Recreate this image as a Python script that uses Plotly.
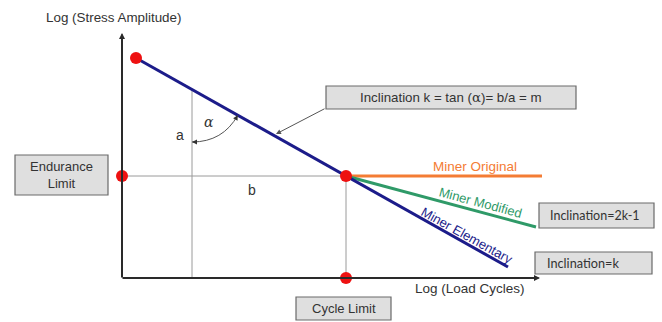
import plotly.graph_objects as go

# ---- data (log cycles on x, log stress on y; arbitrary diagram units) ----
cycle_limit = 224
endurance_limit = 102
elementary_x = [14, 224, 386]
elementary_y = [220, 102, 11]
original_x = [224, 420]
original_y = [102, 102]
modified_x = [224, 414]
modified_y = [102, 51]
points_x = [14, 0, 224, 224]
points_y = [220, 102, 102, 0]
a_line_x = 70
a_line_y = [0, 188.5]

FONT = "Liberation Sans, Arial, sans-serif"
BOXFONT = "Lato, Carlito, sans-serif"
NAVY = "#1c1c8a"
ORANGE = "#f47c34"
GREEN = "#2f9a68"
GRAY = "#9a9a9a"

fig = go.Figure()

# helper gray construction lines
fig.add_trace(go.Scatter(x=[a_line_x, a_line_x], y=a_line_y, mode="lines",
                         line=dict(color=GRAY, width=1), hoverinfo="skip"))
fig.add_trace(go.Scatter(x=[0, cycle_limit], y=[endurance_limit, endurance_limit], mode="lines",
                         line=dict(color=GRAY, width=1), hoverinfo="skip"))
fig.add_trace(go.Scatter(x=[cycle_limit, cycle_limit], y=[0, endurance_limit], mode="lines",
                         line=dict(color=GRAY, width=1), hoverinfo="skip"))

# curves
fig.add_trace(go.Scatter(x=original_x, y=original_y, mode="lines",
                         line=dict(color=ORANGE, width=3)))
fig.add_trace(go.Scatter(x=modified_x, y=modified_y, mode="lines",
                         line=dict(color=GREEN, width=3)))
fig.add_trace(go.Scatter(x=elementary_x, y=elementary_y, mode="lines",
                         line=dict(color=NAVY, width=3)))

# red points
fig.add_trace(go.Scatter(x=points_x, y=points_y, mode="markers",
                         marker=dict(color="#ee1111", size=12, line=dict(width=0))))

annotations = []
shapes = []

# axes with arrows
annotations.append(dict(x=0, y=245, ax=0, ay=-1, xref="x", yref="y", axref="x", ayref="y",
                        text="", showarrow=True, arrowhead=2, arrowsize=0.6, arrowwidth=2,
                        arrowcolor="#2a2a2a"))
annotations.append(dict(x=418, y=0, ax=-1, ay=0, xref="x", yref="y", axref="x", ayref="y",
                        text="", showarrow=True, arrowhead=2, arrowsize=0.6, arrowwidth=2,
                        arrowcolor="#2a2a2a"))

# angle arc
shapes.append(dict(type="path", xref="x", yref="y",
                   path="M 70,136 Q 100.8,136 115.8,162.8",
                   line=dict(color="#555555", width=1)))
annotations.append(dict(x=70, y=136, ax=5, ay=0, xref="x", yref="y", text="", showarrow=True,
                        arrowhead=2, arrowsize=1, arrowwidth=1, arrowcolor="#333333"))
annotations.append(dict(x=115.8, y=162.8, ax=-2.5, ay=4.4, xref="x", yref="y", text="",
                        showarrow=True, arrowhead=2, arrowsize=1, arrowwidth=1,
                        arrowcolor="#333333"))

# pointer from inclination box to line
annotations.append(dict(x=154, y=144, ax=204, ay=170, xref="x", yref="y", axref="x", ayref="y",
                        text="", showarrow=True, arrowhead=2, arrowsize=1, arrowwidth=1,
                        arrowcolor="#555555"))

# boxes
def box(x0, x1, y0, y1):
    shapes.append(dict(type="rect", xref="x", yref="y", x0=x0, x1=x1, y0=y0, y1=y1,
                       fillcolor="#dfdfdf", line=dict(color="#6a6a6a", width=1.2), layer="below"))

box(204, 454, 169, 192)
box(-107, -14, 83, 123)
box(174, 269, -42, -19)
box(417, 532, 50, 75)
box(413, 530, 4, 26)

def txt(x, y, s, size=12, color="#333333", family=FONT, angle=0, xanchor="center"):
    annotations.append(dict(x=x, y=y, xref="x", yref="y", text=s, showarrow=False,
                            font=dict(size=size, color=color, family=family),
                            textangle=angle, xanchor=xanchor, yanchor="middle"))

txt(329, 180.5, "Inclination k = tan (<span style='font-family:DejaVu Serif'>α</span>)= b/a = m", size=13.3)
txt(-60.5, 103, "Endurance<br>Limit", size=13)
txt(221.5, -30.5, "Cycle Limit", size=13)
txt(426, 62.5, "Inclination=2k-1", size=12.5, family=BOXFONT, xanchor="left")
txt(423, 15, "Inclination=k", size=12.7, family=BOXFONT, xanchor="left")

txt(-9, 261, "Log (Stress Amplitude)", size=13.4)
txt(348, -10, "Log (Load Cycles)", size=13.5)
txt(58, 143, "a", size=14)
txt(87, 156, "<i>α</i>", size=14, family="DejaVu Serif, serif")
txt(130, 88, "b", size=14)
txt(353, 112, "Miner Original", size=13.5, color=ORANGE)
txt(358, 76, "Miner Modified", size=13, color=GREEN, angle=15)
txt(345, 43, "Miner Elementary", size=13, color=NAVY, angle=29)

fig.update_layout(
    width=662, height=322,
    margin=dict(l=0, r=0, t=0, b=0),
    paper_bgcolor="white", plot_bgcolor="white",
    showlegend=False,
    xaxis=dict(range=[-122, 540], visible=False, fixedrange=True),
    yaxis=dict(range=[-44, 278], visible=False, fixedrange=True),
    annotations=annotations, shapes=shapes,
)

fig.write_html("out.html", config={"displayModeBar": False},
               post_script="document.body.style.margin='0';document.body.style.overflow='hidden';")
